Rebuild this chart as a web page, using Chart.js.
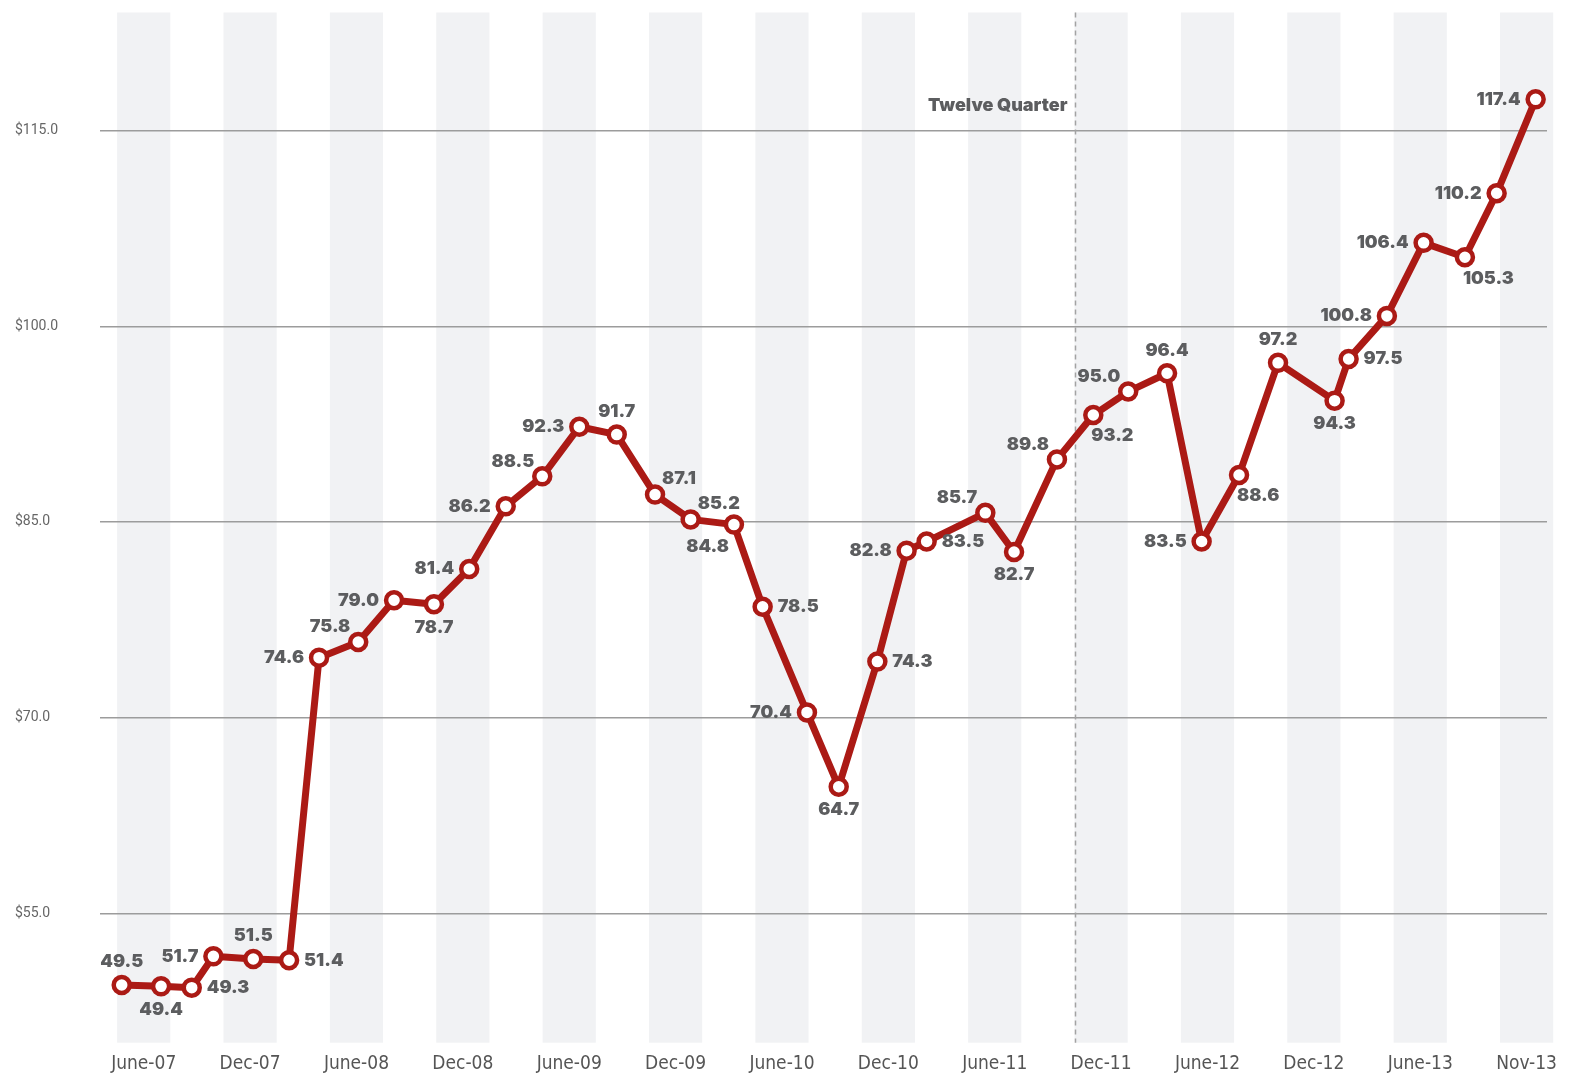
<!DOCTYPE html>
<html>
<head>
<meta charset="utf-8">
<title>Twelve Quarter</title>
<script src="https://cdn.jsdelivr.net/npm/chart.js@4.4.1/dist/chart.umd.min.js"></script>
<style>
  html, body { margin: 0; padding: 0; background: #fff; }
  #wrap { width: 1577px; height: 1073px; }
</style>
</head>
<body>
<div id="wrap"><canvas id="chart" width="1577" height="1073"></canvas></div>
<script>
// when each reading was taken, in months after June 2007
const months = [-1.24, 0.98, 2.71, 3.93, 6.18, 8.20, 9.89, 12.10, 14.12, 16.37,
  18.36, 20.42, 22.48, 24.57, 26.68, 28.84, 30.85, 33.29, 34.91, 37.41,
  39.20, 41.38, 43.03, 44.16, 47.47, 49.09, 51.51, 53.56, 55.53, 57.72,
  59.67, 61.78, 63.98, 67.17, 67.96, 70.12, 72.19, 74.52, 76.31, 78.51];
const prices = [49.5, 49.4, 49.3, 51.7, 51.5, 51.4, 74.6, 75.8, 79.0, 78.7,
  81.4, 86.2, 88.5, 92.3, 91.7, 87.1, 85.2, 84.8, 78.5, 70.4,
  64.7, 74.3, 82.8, 83.5, 85.7, 82.7, 89.8, 93.2, 95.0, 96.4,
  83.5, 88.6, 97.2, 94.3, 97.5, 100.8, 106.4, 105.3, 110.2, 117.4];
// which side of the point each value label goes
const labelSpots = ['top', 'bottom', 'right', 'left', 'top', 'right', 'left', 'topleft', 'left', 'bottom',
  'left', 'left', 'topleft', 'left', 'top', 'topright', 'topright', 'bottomleft', 'right', 'left',
  'bottom', 'right', 'left', 'right', 'topleft', 'bottom', 'topleft', 'bottomright', 'topleft', 'top',
  'left', 'bottomright', 'top', 'bottom', 'right', 'left', 'left', 'bottomright', 'left', 'left'];

const tickMonths = [0, 6, 12, 18, 24, 30, 36, 42, 48, 54, 60, 66, 72, 78];
const tickLabels = ['June-07', 'Dec-07', 'June-08', 'Dec-08', 'June-09', 'Dec-09', 'June-10',
  'Dec-10', 'June-11', 'Dec-11', 'June-12', 'Dec-12', 'June-13', 'Nov-13'];
const priceTicks = [55, 70, 85, 100, 115];
const twelveQuarterMonth = 52.5;

const red = '#ab1a15';
const labelGrey = '#5c5d5f';
const labelFont = "900 18px Inter, 'Open Sans', sans-serif";

const spotOffsets = {
    top: [0, -23, 'center'],
    bottom: [0, 23, 'center'],
    left: [-15, 0, 'right'],
    right: [15, 0, 'left'],
    topleft: [-8, -15, 'right'],
    topright: [7, -16, 'left'],
    bottomright: [-2, 21, 'left'],
    bottomleft: [-5, 22, 'right']
};

/* grey quarter stripes behind everything */
const stripes = {
    id: 'stripes',
    beforeDraw(chart) {
        const { ctx, chartArea, scales } = chart;
        ctx.save();
        ctx.fillStyle = '#fff';
        ctx.fillRect(0, 0, chart.width, chart.height);
        ctx.fillStyle = '#f1f2f4';
        tickMonths.forEach(m => {
            const x1 = scales.x.getPixelForValue(m - 1.5);
            const x2 = scales.x.getPixelForValue(m + 1.5);
            ctx.fillRect(x1, chartArea.top, x2 - x1, chartArea.bottom - chartArea.top);
        });
        ctx.restore();
    }
};

/* dashed line + "Twelve Quarter" */
const marker = {
    id: 'marker',
    beforeDatasetsDraw(chart) {
        const { ctx, chartArea, scales } = chart;
        const x = Math.round(scales.x.getPixelForValue(twelveQuarterMonth)) + 0.5;
        ctx.save();
        ctx.strokeStyle = '#a3a3a3';
        ctx.lineWidth = 1.5;
        ctx.setLineDash([5, 4]);
        ctx.beginPath();
        ctx.moveTo(x, chartArea.top);
        ctx.lineTo(x, chartArea.bottom);
        ctx.stroke();
        ctx.setLineDash([]);
        ctx.fillStyle = labelGrey;
        ctx.font = labelFont;
        ctx.textAlign = 'right';
        ctx.textBaseline = 'middle';
        ctx.fillText('Twelve Quarter', x - 8, chartArea.top + 93);
        ctx.restore();
    }
};

const valueLabels = {
    id: 'valueLabels',
    afterDatasetsDraw(chart) {
        const { ctx } = chart;
        const pts = chart.getDatasetMeta(0).data;
        ctx.save();
        ctx.fillStyle = labelGrey;
        ctx.font = labelFont;
        ctx.textBaseline = 'middle';
        pts.forEach((p, i) => {
            const [dx, dy, align] = spotOffsets[labelSpots[i]];
            ctx.textAlign = align;
            ctx.fillText(prices[i].toFixed(1), p.x + dx, p.y + dy);
        });
        ctx.restore();
    }
};

new Chart(document.getElementById('chart'), {
    type: 'line',
    data: {
        datasets: [{
            data: months.map((m, i) => ({ x: m, y: prices[i] })),
            borderColor: red,
            borderWidth: 7,
            borderJoinStyle: 'round',
            tension: 0,
            pointRadius: 8,
            pointBorderWidth: 4.5,
            pointBackgroundColor: '#fff',
            pointBorderColor: red,
            clip: false
        }]
    },
    options: {
        responsive: false,
        animation: false,
        layout: { padding: { top: 8, right: 30, bottom: 0, left: 15 } },
        plugins: { legend: { display: false }, tooltip: { enabled: false } },
        scales: {
            x: {
                type: 'linear',
                min: -2.465,
                max: 79.15,
                afterFit: s => { s.height = 30.3; },
                afterBuildTicks: s => { s.ticks = tickMonths.map(v => ({ value: v })); },
                grid: { display: false, drawTicks: false, tickLength: 0 },
                border: { display: false },
                ticks: {
                    padding: 10,
                    maxRotation: 0,
                    autoSkip: false,
                    color: '#555',
                    font: { family: "'Liberation Sans Narrow', 'DejaVu Sans Condensed', Roboto, sans-serif", size: 19 },
                    callback: (v, i) => tickLabels[i]
                }
            },
            y: {
                min: 45.08,
                max: 124.06,
                afterFit: s => { s.width = 85; },
                afterBuildTicks: s => { s.ticks = priceTicks.map(v => ({ value: v })); },
                grid: { color: '#9c9c9c', lineWidth: 1.5, drawTicks: false, tickLength: 0 },
                border: { display: false },
                ticks: {
                    crossAlign: 'far',
                    color: '#666',
                    font: { family: 'Roboto', size: 14 },
                    callback: v => '$' + v.toFixed(1)
                }
            }
        }
    },
    plugins: [stripes, marker, valueLabels]
});
</script>
</body>
</html>
